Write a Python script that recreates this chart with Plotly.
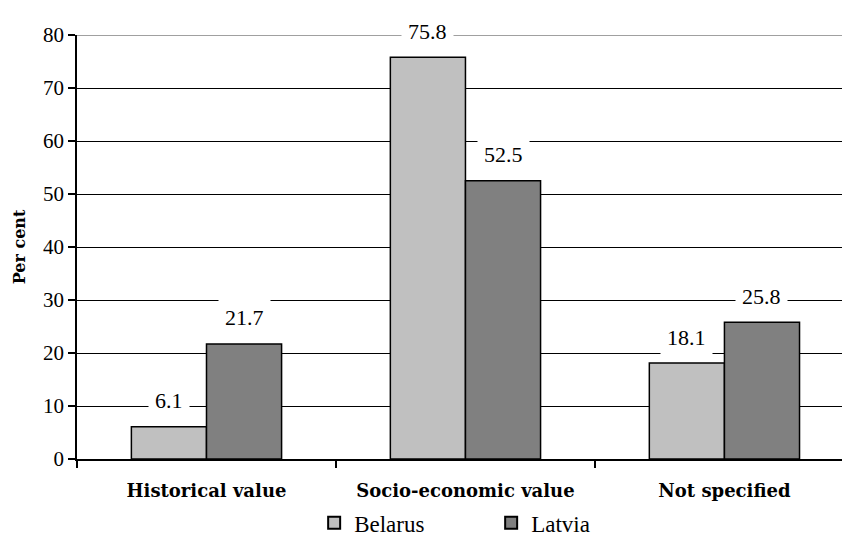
import plotly.graph_objects as go

# Share of responses by motive, per cent
categories = ["Historical value", "Socio-economic value", "Not specified"]
belarus = [6.1, 75.8, 18.1]
latvia = [21.7, 52.5, 25.8]
y_ticks = [0, 10, 20, 30, 40, 50, 60, 70, 80]

SERIF = "Liberation Serif, Times New Roman, Times, serif"
BOLD_SERIF = "DejaVu Serif, serif"
BAR_HALF = 0.145  # half of one bar's width, in category units

fig = go.Figure()
fig.add_bar(
    x=categories, y=belarus, name="Belarus",
    marker=dict(color="#C0C0C0", line=dict(color="black", width=1.5)),
)
fig.add_bar(
    x=categories, y=latvia, name="Latvia",
    marker=dict(color="#808080", line=dict(color="black", width=1.5)),
)

# value labels on white boxes above each bar
annotations = []
for offset, values in ((-BAR_HALF, belarus), (BAR_HALF, latvia)):
    for i, v in enumerate(values):
        annotations.append(dict(
            x=i + offset, y=v, xref="x", yref="y",
            text=f"{v:.1f}", showarrow=False,
            yanchor="middle", yshift=26,
            bgcolor="white", borderpad=6,
            font=dict(family=SERIF, size=22, color="black"),
        ))

fig.update_layout(
    width=842, height=539,
    margin=dict(l=77, r=0, t=35, b=80, autoexpand=False),
    paper_bgcolor="white", plot_bgcolor="white",
    barmode="group", bargap=0.42, bargroupgap=0,
    showlegend=True,
    legend=dict(
        orientation="h", x=0.31, y=-0.10, xanchor="left", yanchor="top",
        font=dict(family=SERIF, size=23, color="black"),
        entrywidth=132, entrywidthmode="pixels",
        itemsizing="constant", traceorder="normal",
        bgcolor="rgba(0,0,0,0)",
    ),
    annotations=annotations,
    shapes=[dict(
        type="line", xref="paper", yref="y", x0=0, x1=1, y0=80, y1=80,
        line=dict(color="#808080", width=1.5), layer="above",
    )],
)

fig.update_xaxes(
    type="category", range=[-0.5, 2.454],
    showline=True, linecolor="black", linewidth=1.5,
    ticks="outside", tickson="boundaries", ticklen=7, tickcolor="black", tickwidth=1.5,
    tickfont=dict(family=BOLD_SERIF, size=18, color="black", weight="bold"),
    ticklabelstandoff=15,
    showgrid=False, zeroline=False,
)
fig.update_yaxes(
    range=[0, 80], tickvals=y_ticks,
    showline=True, linecolor="black", linewidth=1.5,
    ticks="outside", ticklen=7, tickcolor="black", tickwidth=1.5,
    tickfont=dict(family=SERIF, size=21, color="black"),
    showgrid=True, gridcolor="black", gridwidth=1,
    zeroline=False,
    title=dict(text="Per cent", standoff=13,
               font=dict(family=BOLD_SERIF, size=16, color="black", weight="bold")),
)

fig.write_html("out.html")
